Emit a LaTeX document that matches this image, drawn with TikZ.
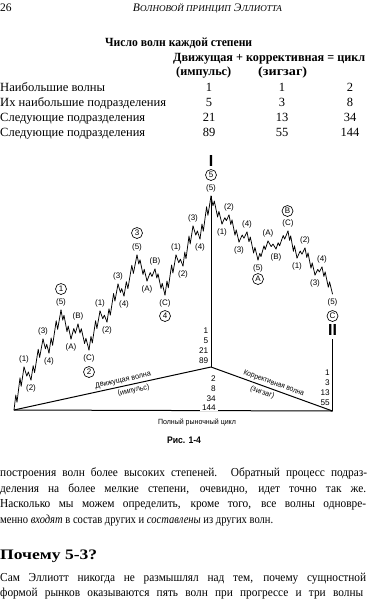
\documentclass[tikz,border=0pt]{standalone}
\usepackage{fontspec}
\setmainfont{Liberation Serif}
\setsansfont{Liberation Sans}
\newfontfamily\bodyfont[FakeStretch=0.93]{Liberation Serif}
\usetikzlibrary{calc}
\newcommand\fs[1]{\fontsize{#1}{#1}\selectfont}
\newcommand\fitw[2]{\resizebox{#1}{\height}{#2}}
\newlength\tmpw
\newcommand\jline[2]{\settowidth\tmpw{#2}\ifdim\tmpw<#1\relax\makebox[#1][s]{#2}\else\resizebox{#1}{\height}{#2}\fi}
\newcommand\impw[2]{\draw[wv] let \p1=(#1), \p2=(#2) in (\p1)
 -- ++({0.18*((\x2)-(\x1))},{0.35*((\y2)-(\y1))})
 -- ++({0.12*((\x2)-(\x1))},{-0.17*((\y2)-(\y1))})
 -- ++({0.30*((\x2)-(\x1))},{0.57*((\y2)-(\y1))})
 -- ++({0.12*((\x2)-(\x1))},{-0.20*((\y2)-(\y1))})
 -- (\p2);}
\newcommand\corw[2]{\draw[wv] let \p1=(#1), \p2=(#2) in (\p1)
 -- ++({0.40*((\x2)-(\x1))},{0.70*((\y2)-(\y1))})
 -- ++({0.22*((\x2)-(\x1))},{-0.32*((\y2)-(\y1))})
 -- (\p2);}
\newcommand\pkl[4]{\coordinate (#1) at (#2,#3); \node[lbl] (#1l) at (#2,{#3-8}) {(#4)};}
\newcommand\trl[4]{\coordinate (#1) at (#2,#3); \node[lbl] (#1l) at (#2,{#3+8}) {(#4)};}
\tikzset{
 wv/.style={line width=0.75pt, line join=round, line cap=round},
 lbl/.style={font=\sffamily\fs{8}, inner sep=0pt},
 circ/.style={circle, draw, line width=0.65pt, inner sep=0pt, minimum size=11pt, font=\sffamily\fs{8}},
 num/.style={font=\sffamily\fs{8.2}, inner sep=0pt, anchor=east},
 baseln/.style={line width=1pt},
 tb/.style={inner sep=0pt, font=\fs{12.5}},
 tx/.style={inner sep=0pt, font=\bodyfont\fs{12.2}, anchor=base west},
 dtx/.style={font=\sffamily\fs{7.5}},
}
\begin{document}
\begin{tikzpicture}[x=1pt,y=-1pt]
\useasboundingbox (0,0) rectangle (367,600);
% header
\node[anchor=base west, inner sep=0pt] (pg) at (0,11) {\fs{11.5}26};
\node[anchor=base, inner sep=0pt] (hd) at (207.5,11) {\fitw{149pt}{\fs{11.5}\itshape В{\fs{9}ОЛНОВОЙ ПРИНЦИП} Э{\fs{9}ЛЛИОТТА}}};
% table
\node[tb, anchor=base west] (t0) at (105,46) {\fitw{147pt}{\bfseries Число волн каждой степени}};
\node[tb, anchor=base west] (t1) at (173,61) {\fitw{192pt}{\bfseries Движущая + коррективная = цикл}};
\node[tb, anchor=base west] (t2) at (176,75) {\fitw{55pt}{\bfseries (импульс)}};
\node[tb, anchor=base west] (t3) at (258,75) {\fitw{49pt}{\bfseries (зигзаг)}};
\node[tb, anchor=base west] (r1) at (0,91.5) {\fitw{105pt}{Наибольшие волны}};
\node[tb, anchor=base west] (r2) at (0,106) {\fitw{166pt}{Их наибольшие подразделения}};
\node[tb, anchor=base west] (r3) at (0,121.5) {\fitw{145pt}{Следующие подразделения}};
\node[tb, anchor=base west] (r4) at (0,136.5) {\fitw{145pt}{Следующие подразделения}};
\node[tb, anchor=base] (a1) at (209,91.5) {1};
\node[tb, anchor=base] (a2) at (209,106) {5};
\node[tb, anchor=base] (a3) at (209,121.5) {21};
\node[tb, anchor=base] (a4) at (209,136.5) {89};
\node[tb, anchor=base] (b1) at (282,91.5) {1};
\node[tb, anchor=base] (b2) at (282,106) {3};
\node[tb, anchor=base] (b3) at (282,121.5) {13};
\node[tb, anchor=base] (b4) at (282,136.5) {55};
\node[tb, anchor=base] (c1) at (350,91.5) {2};
\node[tb, anchor=base] (c2) at (350,106) {8};
\node[tb, anchor=base] (c3) at (350,121.5) {34};
\node[tb, anchor=base] (c4) at (350,136.5) {144};
% diagram frame
\coordinate (S) at (14,410);
\coordinate (V) at (211,367);
\coordinate (R) at (332.5,411);
\coordinate (Rt) at (332.5,339);
% wave points
\pkl{p1}{24}{367}{1} \trl{p2}{31}{380}{2} \pkl{p3}{43}{339}{3} \trl{p4}{49}{353}{4} \pkl{p5}{61}{310}{5}
\trl{pA}{71}{339}{A} \pkl{pB}{78}{324}{B} \trl{pC}{89}{350}{C}
\pkl{q1}{100}{311}{1} \trl{q2}{107}{322}{2} \pkl{q3}{118}{284}{3} \trl{q4}{124}{296}{4} \pkl{q5}{137}{255}{5}
\trl{qA}{147}{281}{A} \pkl{qB}{155}{269}{B} \trl{qC}{165}{295}{C}
\pkl{u1}{176}{255}{1} \trl{u2}{183}{266}{2} \pkl{u3}{193}{226}{3} \trl{u4}{200}{239}{4} \pkl{u5}{211}{196}{5}
\trl{s1}{222}{224}{1} \pkl{s2}{229}{215}{2} \trl{s3}{239}{242}{3} \pkl{s4}{247}{232}{4} \trl{s5}{258}{260}{5}
\pkl{sA}{268}{241}{A} \trl{sB}{276}{249}{B} \pkl{sC}{288}{231}{C}
\trl{w1}{297}{258}{1} \pkl{w2}{305}{248}{2} \trl{w3}{315}{275}{3} \pkl{w4}{322}{267}{4} \trl{w5}{332.5}{294}{5}
% circled labels
\node[circ] (k1) at (61,289) {1};
\node[circ] (k2) at (89,372) {2};
\node[circ] (k3) at (137,233) {3};
\node[circ] (k4) at (165,316) {4};
\node[circ] (k5) at (211,175) {5};
\node[circ] (kA) at (258,279) {A};
\node[circ] (kB) at (287.5,211) {B};
\node[circ] (kC) at (332.5,316) {C};
\node[inner sep=0pt, font=\sffamily\bfseries\fs{16}] (rI) at (211,161) {I};
\node[inner sep=0pt, font=\sffamily\bfseries\fs{16}] (rII) at (332.5,330) {II};
% wave
\impw{S}{p1} \corw{p1}{p2} \impw{p2}{p3} \corw{p3}{p4} \impw{p4}{p5}
\impw{p5}{pA} \corw{pA}{pB} \impw{pB}{pC}
\impw{pC}{q1} \corw{q1}{q2} \impw{q2}{q3} \corw{q3}{q4} \impw{q4}{q5}
\impw{q5}{qA} \corw{qA}{qB} \impw{qB}{qC}
\impw{qC}{u1} \corw{u1}{u2} \impw{u2}{u3} \corw{u3}{u4} \impw{u4}{u5}
\impw{u5}{s1} \corw{s1}{s2} \impw{s2}{s3} \corw{s3}{s4} \impw{s4}{s5}
\impw{s5}{sA} \corw{sA}{sB} \impw{sB}{sC}
\impw{sC}{w1} \corw{w1}{w2} \impw{w2}{w3} \corw{w3}{w4} \impw{w4}{w5}
% frame lines
\draw[baseln] (u5) -- (V);
\draw[baseln] (Rt) -- (R);
\draw[baseln] (S) -- (R);
\draw[baseln] (S) -- (V) node[pos=0.56, sloped, above, inner sep=2pt, dtx] (dw) {\fitw{57pt}{Движущая волна}}
                         node[pos=0.60, sloped, below, inner sep=2.5pt, dtx] (di) {\fitw{32pt}{(импульс)}};
\draw[baseln] (V) -- (R) node[pos=0.50, sloped, above, inner sep=2pt, dtx] (kw) {\fitw{64pt}{Коррективная волна}}
                         node[pos=0.44, sloped, below, inner sep=2.5pt, dtx] (kz) {\fitw{25pt}{(зигзаг)}};
% numbers
\node[num] (m1) at (208.5,331) {1};
\node[num] (m2) at (208.5,341) {5};
\node[num] (m3) at (208.5,351) {21};
\node[num] (m4) at (208.5,361) {89};
\node[num] (n1) at (216,379) {2};
\node[num] (n2) at (216,389) {8};
\node[num] (n3) at (216,399) {34};
\node[num, fill=white, inner xsep=2pt, inner ysep=0.6pt] (n4) at (218,408) {144};
\node[num] (o1) at (330,373) {1};
\node[num] (o2) at (330,383) {3};
\node[num] (o3) at (330,393) {13};
\node[num] (o4) at (330,403) {55};
\node[inner sep=0pt, font=\sffamily\fs{7.5}] (cyc) at (197,422) {\fitw{78pt}{Полный рыночный цикл}};
\node[inner sep=0pt, font=\sffamily\bfseries\fs{9.5}] (fig) at (184,440) {\fitw{34pt}{Рис. 1-4}};
% body text
\node[tx] (l1) at (0,476.5) {\jline{367pt}{построения волн более высоких степеней. Обратный процесс подраз-}};
\node[tx] (l2) at (0,492) {\jline{366pt}{деления на более мелкие степени, очевидно, идет точно так же.}};
\node[tx] (l3) at (0,507.7) {\jline{366pt}{Насколько мы можем определить, кроме того, все волны одновре-}};
\node[tx] (l4) at (0,523.3) {\fitw{273pt}{менно \textit{входят} в состав других и \textit{составлены} из других волн.}};
\node[tx] (h1) at (0,559.5) {\fitw{97pt}{\fs{14.5}\bfseries Почему 5-3?}};
\node[tx] (l5) at (0,581.3) {\jline{366pt}{Сам Эллиотт никогда не размышлял над тем, почему сущностной}};
\node[tx] (l6) at (0,596.8) {\jline{363pt}{формой рынков оказываются пять волн при прогрессе и три волны}};
\end{tikzpicture}
\end{document}
